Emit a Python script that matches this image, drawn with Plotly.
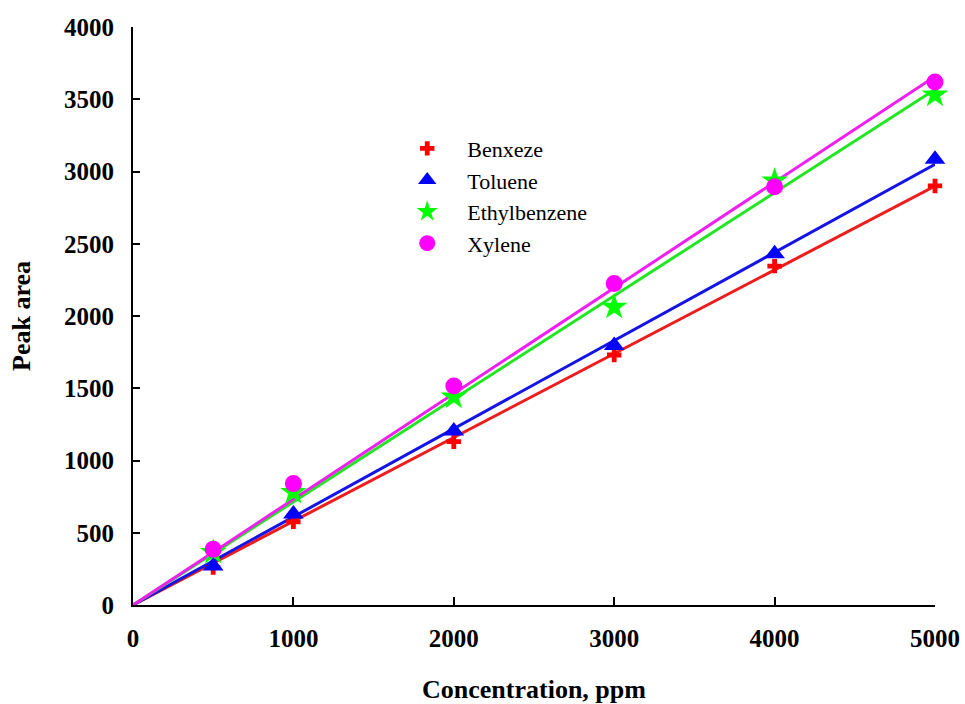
import numpy as np
import plotly.graph_objects as go

conc = [500, 1000, 2000, 3000, 4000, 5000]
benzene = [260, 575, 1130, 1730, 2345, 2900]
toluene = [270, 630, 1205, 1795, 2430, 3085]
ethylbenzene = [365, 780, 1440, 2062, 2935, 3530]
xylene = [385, 840, 1515, 2225, 2895, 3620]

series = [
    ("Benxeze", benzene, "#ff0000", "#ee1c1c", "cross", 12),
    ("Toluene", toluene, "#0000ff", "#1414e6", "triangle-up", 18),
    ("Ethylbenzene", ethylbenzene, "#00ff00", "#22e622", "star", 20),
    ("Xylene", xylene, "#ff00ff", "#f01ef0", "circle", 17),
]

fig = go.Figure()

# regression lines through origin (least squares from the data)
x_arr = np.array(conc, dtype=float)
for name, vals, mcol, lcol, sym, sz in series:
    y_arr = np.array(vals, dtype=float)
    slope = float((x_arr * y_arr).sum() / (x_arr * x_arr).sum())
    xs = [0, conc[-1]]
    fig.add_trace(go.Scatter(x=xs, y=[slope * v for v in xs], mode="lines",
                             line=dict(color=lcol, width=3), showlegend=False,
                             hoverinfo="skip", cliponaxis=False))

for i, (name, vals, mcol, lcol, sym, sz) in enumerate(series):
    fig.add_trace(go.Scatter(x=conc, y=vals, mode="markers", name=name,
                             marker=dict(color=mcol, symbol=sym, size=sz, line=dict(width=0)),
                             cliponaxis=False))

tickfont = dict(family="Liberation Serif", size=25, color="black", weight="bold")
titlefont = dict(family="Liberation Serif", size=26, color="black", weight="bold")

fig.update_layout(
    width=965, height=704,
    margin=dict(l=133, r=30, t=27, b=99),
    paper_bgcolor="white", plot_bgcolor="white",
    showlegend=True,
    legend=dict(x=0.317, y=0.826, xanchor="left", yanchor="top",
                itemwidth=70,
                bgcolor="rgba(0,0,0,0)", traceorder="normal",
                font=dict(family="Liberation Serif", size=22, color="black")),
    xaxis=dict(range=[0, 5000], tickvals=[0, 1000, 2000, 3000, 4000, 5000],
               automargin=False,
               showline=True, linecolor="black", linewidth=2, mirror=False,
               ticks="inside", ticklen=8, tickwidth=2, tickcolor="black",
               showgrid=False, zeroline=False, tickfont=tickfont,
               ticklabelstandoff=10,
               title=dict(text="Concentration, ppm", font=titlefont, standoff=35)),
    yaxis=dict(range=[0, 4000], tickvals=list(range(0, 4001, 500)),
               automargin=False,
               showline=True, linecolor="black", linewidth=2, mirror=False,
               ticks="inside", ticklen=7, tickwidth=2, tickcolor="black",
               showgrid=False, zeroline=False, tickfont=tickfont,
               ticklabelstandoff=12,
               title=dict(text="Peak area", font=titlefont, standoff=26)),
)

fig.write_html("out.html")
